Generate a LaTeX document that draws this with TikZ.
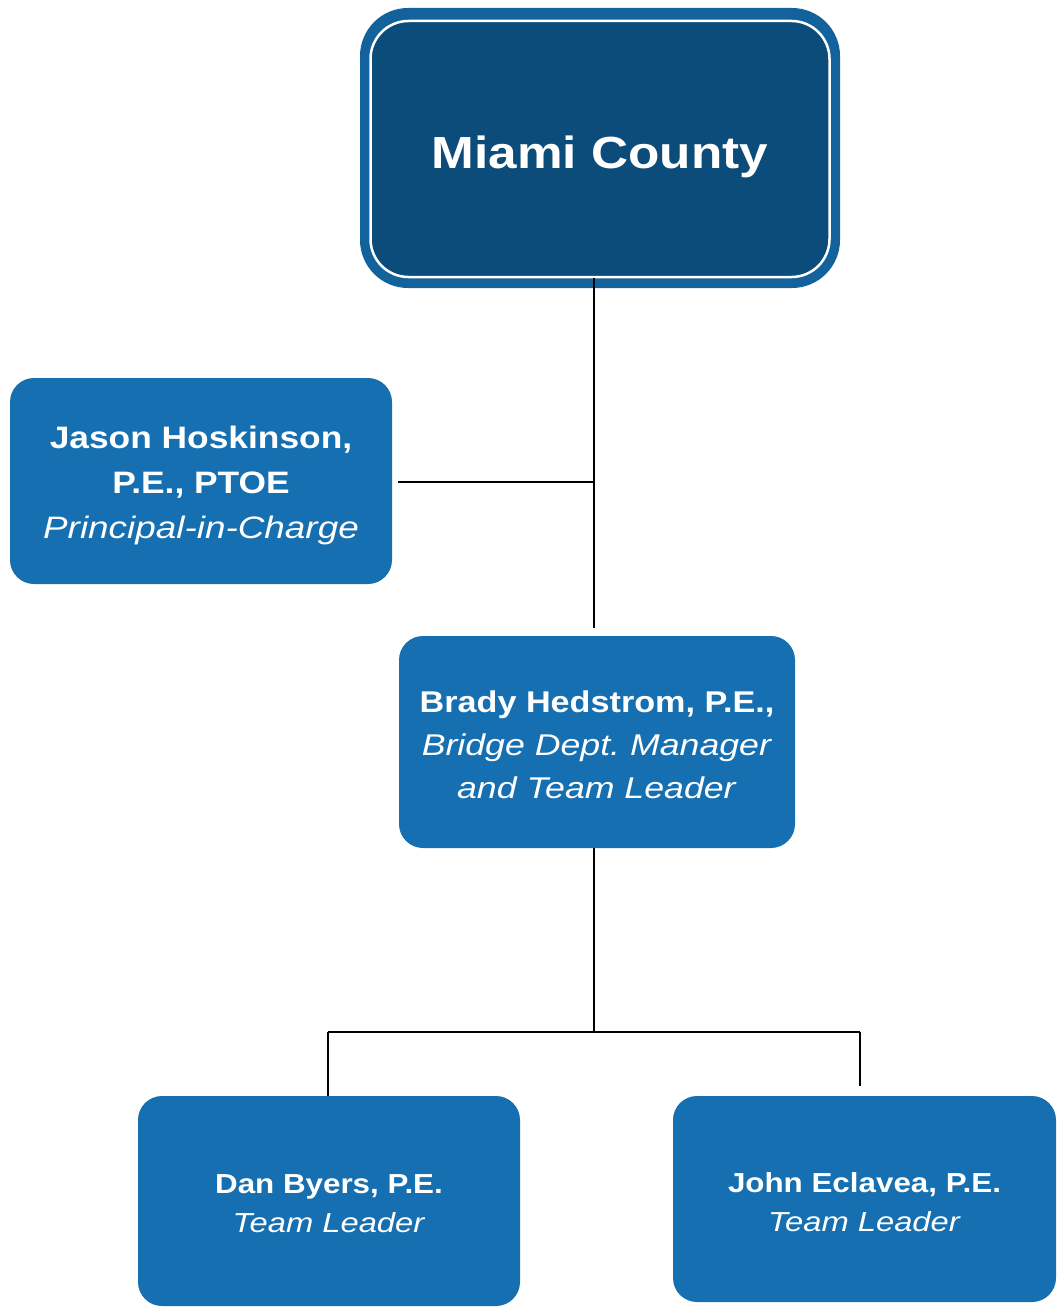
\documentclass[tikz,border=0pt]{standalone}
\usepackage{fontspec}
\setmainfont{Liberation Sans}[BoldFeatures={FakeStretch=1.14}, ItalicFeatures={FakeStretch=1.19}]
\definecolor{boxblue}{RGB}{22,111,176}
\definecolor{ringblue}{RGB}{20,98,156}
\definecolor{darkblue}{RGB}{12,76,122}
\frenchspacing
\begin{document}
\begin{tikzpicture}[x=1pt,y=-1pt,
  orgbox/.style={fill=boxblue, draw=none, rounded corners=24pt, inner sep=0pt},
  boxtext/.style={text=white, align=center, inner sep=0pt},
  link/.style={draw=black, line width=2pt}]
\useasboundingbox (0,0) rectangle (1061,1311);
% top box
\node[fill=ringblue, rounded corners=48pt, minimum width=480pt, minimum height=280pt, inner sep=0pt] (miami) at (600,148) {};
\node[fill=darkblue, draw=white, line width=2.5pt, rounded corners=38pt, minimum width=459pt, minimum height=256pt, inner sep=0pt] (miamiin) at (600,149) {};
\node[boxtext, font=\fontsize{45}{54}\selectfont\bfseries] (miamitext) at (600,157) {Miami County};
% other boxes
\node[orgbox, minimum width=382pt, minimum height=206pt] (jason) at (201,481) {};
\node[boxtext, font=\fontsize{31}{45}\selectfont] (jasontext) at (201,485)
  {\textbf{Jason Hoskinson,}\\ \textbf{P.E., PTOE}\\ \textit{Principal-in-Charge}};
\node[orgbox, minimum width=396pt, minimum height=212pt] (brady) at (597,742) {};
\node[boxtext, font=\fontsize{30}{43}\selectfont] (bradytext) at (597,745)
  {\textbf{Brady Hedstrom, P.E.,}\\ \textit{Bridge Dept. Manager}\\ \textit{and Team Leader}};
\node[orgbox, minimum width=382pt, minimum height=210pt] (dan) at (329,1201) {};
\node[boxtext, font=\fontsize{27.5}{39}\selectfont] (dantext) at (329,1204)
  {\textbf{Dan Byers, P.E.}\\ \textit{Team Leader}};
\node[orgbox, minimum width=383pt, minimum height=206pt] (john) at (864.5,1199) {};
\node[boxtext, font=\fontsize{27.5}{39}\selectfont] (johntext) at (864.5,1202)
  {\textbf{John Eclavea, P.E.}\\ \textit{Team Leader}};
% connectors
\coordinate (j1) at (594,482);
\coordinate (j2) at (594,1032);
\coordinate (jl) at (328,1032);
\coordinate (jr) at (860,1032);
\draw[link] (j1 |- miamiin.south) -- ([yshift=8pt]j1 |- brady.north);
\draw[link] ([xshift=6pt]jason.east |- j1) -- (j1);
\draw[link] (j2 |- brady.south) -- (j2);
\draw[link] (jl) -- (jr);
\draw[link] (jl) -- (jl |- dan.north);
\draw[link] (jr) -- ([yshift=10pt]jr |- john.north);
\end{tikzpicture}
\end{document}
